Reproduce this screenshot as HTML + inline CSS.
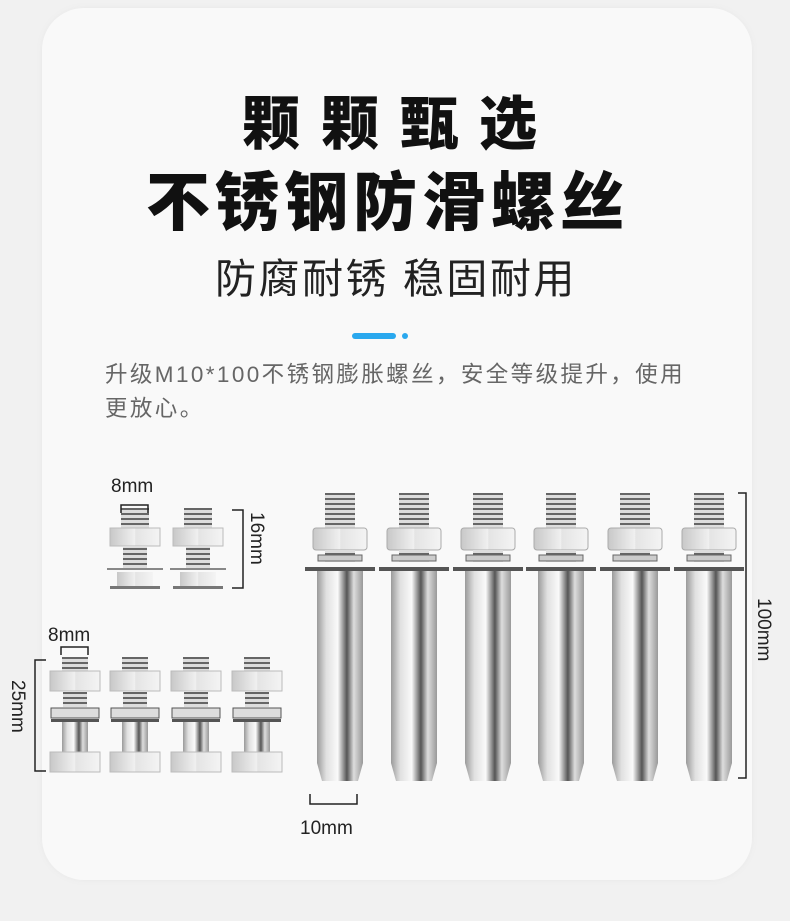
<!DOCTYPE html>
<html><head><meta charset="utf-8"><style>
body{margin:0;width:790px;height:921px;background:#f1f1f1;position:relative;overflow:hidden;font-family:"Liberation Sans","Noto Sans CJK SC",sans-serif}
.card{position:absolute;left:42px;top:8px;width:710px;height:872px;background:#f9f9f9;border-radius:42px;box-shadow:0 0 6px #e8e8e8}
.t{position:absolute;white-space:nowrap;color:#111}
</style></head><body>
<div class="card"></div>
<div class="t" style="left:242px;top:90px;font-size:58px;font-weight:900;letter-spacing:21px;line-height:70px">颗颗甄选</div>
<div class="t" style="left:146px;top:166px;font-size:64px;font-weight:900;letter-spacing:5px;line-height:74px">不锈钢防滑螺丝</div>
<div class="t" style="left:215px;top:254px;font-size:41px;letter-spacing:2.5px;line-height:50px;color:#222">防腐耐锈 稳固耐用</div>
<div style="position:absolute;left:352px;top:333px;width:44px;height:6px;border-radius:3px;background:#2aa8ee"></div>
<div style="position:absolute;left:402px;top:333px;width:6px;height:6px;border-radius:3px;background:#2aa8ee"></div>
<div class="t" style="left:105px;top:358px;font-size:22.5px;letter-spacing:2.4px;line-height:34px;color:#666">升级M10*100不锈钢膨胀螺丝，安全等级提升，使用<br>更放心。</div>
<svg width="790" height="921" style="position:absolute;left:0;top:0" xmlns="http://www.w3.org/2000/svg">
<defs>
<linearGradient id="m" x1="0" x2="1"><stop offset="0" stop-color="#9a9a9a"/><stop offset=".2" stop-color="#e0e0e0"/><stop offset=".45" stop-color="#fafafa"/><stop offset=".65" stop-color="#555"/><stop offset=".8" stop-color="#ddd"/><stop offset="1" stop-color="#999"/></linearGradient>
<linearGradient id="n" x1="0" x2="1"><stop offset="0" stop-color="#c8c8c8"/><stop offset=".5" stop-color="#f0f0f0"/><stop offset=".51" stop-color="#e4e4e4"/><stop offset="1" stop-color="#f4f4f4"/></linearGradient>
<pattern id="th" width="4" height="5" patternUnits="userSpaceOnUse"><rect width="4" height="5" fill="#ddd"/><rect width="4" height="2" fill="#666"/></pattern>
<g id="big">
<rect x="-15" y="0" width="30" height="35" fill="url(#th)"/>
<rect x="-27" y="35" width="54" height="22" rx="3" fill="url(#n)" stroke="#aaa"/>
<rect x="-15" y="57" width="30" height="12" fill="url(#th)"/>
<rect x="-22" y="62" width="44" height="6" fill="#ccc" stroke="#666" stroke-width="1"/>
<rect x="-35" y="74" width="70" height="4" fill="#555"/>
<rect x="-23" y="78" width="46" height="192" fill="url(#m)"/>
<path d="M-23 270 L23 270 L18 288 L-18 288 Z" fill="url(#m)"/>
</g>
<g id="s1">
<rect x="-14" y="0" width="28" height="20" fill="url(#th)"/>
<rect x="-25" y="20" width="50" height="18" fill="url(#n)" stroke="#bbb"/>
<rect x="-12" y="38" width="24" height="22" fill="url(#th)"/>
<rect x="-28" y="60" width="56" height="2" fill="#888"/>
<rect x="-18" y="64" width="36" height="14" fill="url(#n)"/>
<rect x="-25" y="78" width="50" height="3" fill="#777"/>
</g>
<g id="s2">
<rect x="-13" y="0" width="26" height="14" fill="url(#th)"/>
<rect x="-25" y="14" width="50" height="20" fill="url(#n)" stroke="#bbb"/>
<rect x="-12" y="34" width="24" height="16" fill="url(#th)"/>
<rect x="-24" y="51" width="48" height="10" fill="#ddd" stroke="#555"/>
<rect x="-24" y="62" width="48" height="3" fill="#555"/>
<rect x="-13" y="65" width="26" height="30" fill="url(#m)"/>
<rect x="-25" y="95" width="50" height="20" fill="url(#n)" stroke="#bbb"/>
</g>
</defs>
<use href="#big" x="340" y="493"/><use href="#big" x="414" y="493"/><use href="#big" x="488" y="493"/>
<use href="#big" x="561" y="493"/><use href="#big" x="635" y="493"/><use href="#big" x="709" y="493"/>
<use href="#s1" x="135" y="508"/><use href="#s1" x="198" y="508"/>
<use href="#s2" x="75" y="657"/><use href="#s2" x="135" y="657"/><use href="#s2" x="196" y="657"/><use href="#s2" x="257" y="657"/>
<g stroke="#222" stroke-width="1.5" fill="none">
<path d="M121 513 V505 H148 V513"/>
<path d="M232 510 H243 V588 H232"/>
<path d="M61 655 V647 H88 V655"/>
<path d="M46 660 H35 V771 H46"/>
<path d="M310 794 V804 H357 V794"/>
<path d="M738 493 H746 V778 H738"/>
</g>
<g font-family="Liberation Sans, sans-serif" font-size="19" fill="#222">
<text x="111" y="492">8mm</text>
<text x="48" y="641">8mm</text>
<text x="300" y="834">10mm</text>
<text transform="translate(251,512) rotate(90)">16mm</text>
<text transform="translate(12,680) rotate(90)">25mm</text>
<text transform="translate(758,598) rotate(90)">100mm</text>
</g>
</svg>
</body></html>
